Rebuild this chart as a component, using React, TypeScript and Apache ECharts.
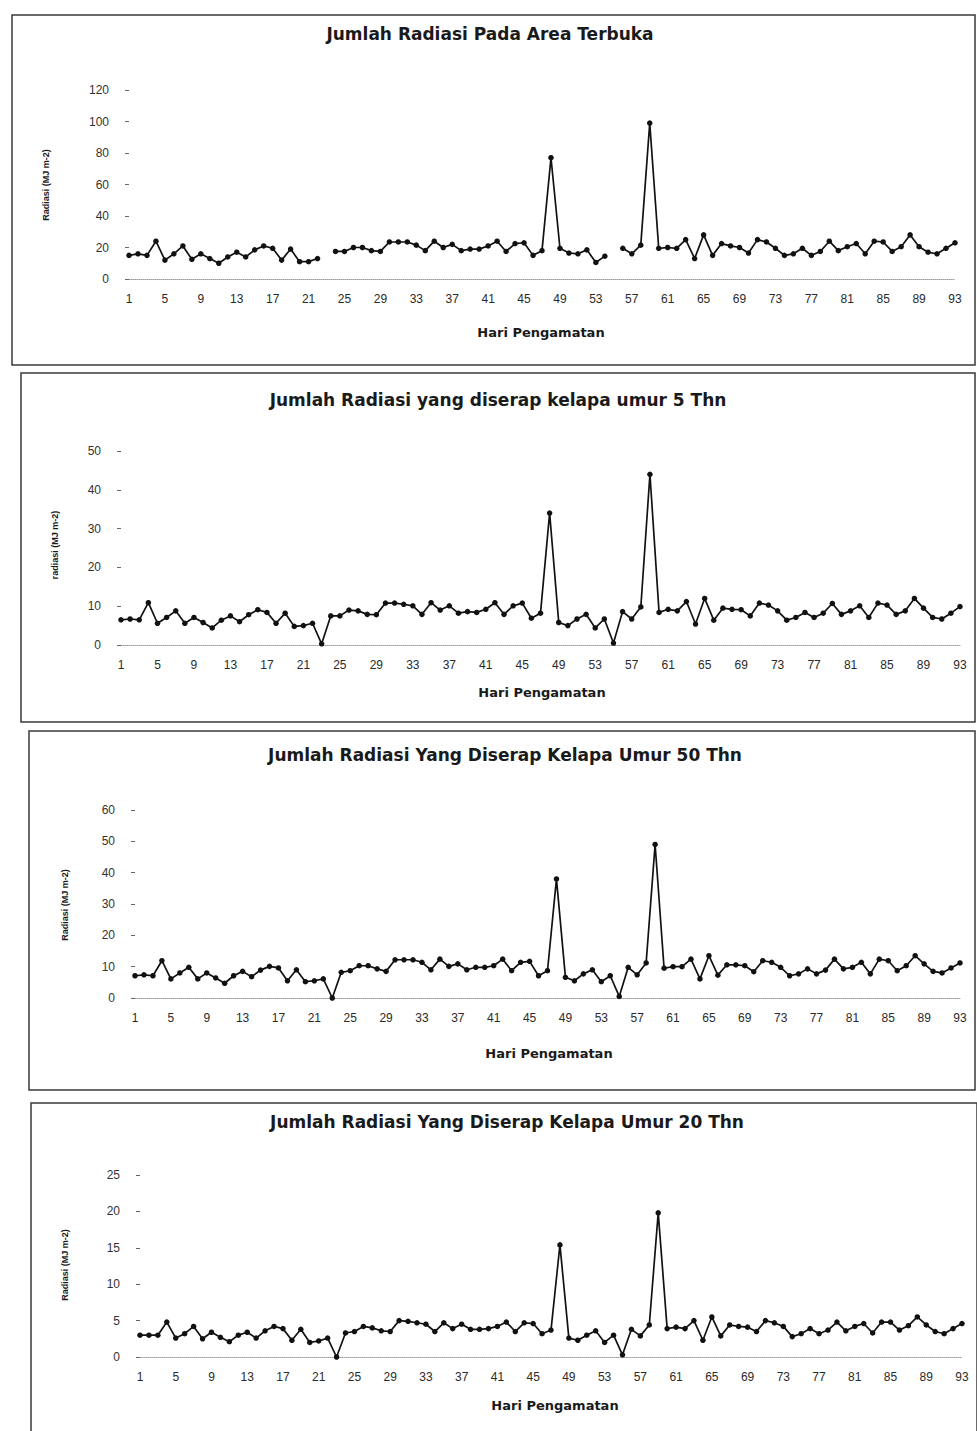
import React, { useEffect, useRef } from "react";
import * as echarts from "echarts";

const days: string[] = Array.from({ length: 93 }, (_, i) => String(i + 1));

const titles = [
  "Jumlah Radiasi Pada Area Terbuka",
  "Jumlah Radiasi yang diserap kelapa umur 5 Thn",
  "Jumlah Radiasi Yang Diserap Kelapa Umur 50 Thn",
  "Jumlah Radiasi Yang Diserap Kelapa Umur 20 Thn",
];
const yNames = ["Radiasi (MJ m-2)", "radiasi (MJ m-2)", "Radiasi (MJ m-2)", "Radiasi (MJ m-2)"];
const xName = "Hari Pengamatan";
const yMaxes = [120, 50, 60, 25];
const yIntervals = [20, 10, 10, 5];

const areaTerbuka: (number | null)[] = [
  15, 16, 15, 24, 12, 16, 21, 12.5, 16, 13, 10, 14, 17, 14, 18.5, 21, 19.5, 12, 19, 11,
  11, 13, null, 17.5, 17.5, 20, 20, 18, 17.5, 23.5, 23.5, 23.5, 21.5, 18, 24, 20, 22, 18, 19, 19,
  21, 24, 17.5, 22.5, 23, 15, 18, 77, 19.5, 16.5, 16, 18.5, 10.5, 14.5, null, 19.5, 16, 21.5, 99, 19.5,
  20, 19.5, 25, 13, 28, 15, 22.5, 21, 20, 16.5, 25, 23.5, 19.5, 15, 16, 19.5, 15, 17.5, 24, 18,
  20.5, 22.5, 16, 24, 23.5, 17.5, 20.5, 28, 20.5, 17, 16, 19.5, 23,
];

const umur5: number[] = [
  6.5, 6.7, 6.5, 10.9, 5.6, 7.1, 8.8, 5.6, 7.1, 5.8, 4.4, 6.4, 7.5, 6, 7.8, 9.1, 8.4, 5.6, 8.2, 4.8,
  5, 5.6, 0.3, 7.5, 7.5, 9, 8.8, 7.9, 7.8, 10.8, 10.8, 10.5, 10.1, 7.9, 10.9, 9, 10.1, 8.2, 8.6, 8.4,
  9.2, 10.9, 7.9, 10.1, 10.8, 6.9, 8.2, 34, 5.8, 5, 6.7, 7.9, 4.4, 6.7, 0.5, 8.6, 6.7, 9.8, 44, 8.4,
  9.2, 8.8, 11.2, 5.4, 12, 6.4, 9.5, 9.2, 9.1, 7.5, 10.8, 10.3, 8.8, 6.4, 7.1, 8.4, 7.1, 8.2, 10.7, 7.9,
  8.8, 10.1, 7.1, 10.8, 10.3, 7.9, 8.8, 12, 9.5, 7.1, 6.7, 8.2, 9.9,
];

const umur50: number[] = [
  7.1, 7.4, 7.1, 11.9, 6.1, 8, 9.8, 6.1, 8, 6.4, 4.7, 7.1, 8.5, 6.8, 8.9, 10.1, 9.6, 5.5, 9, 5.2,
  5.5, 6.1, 0, 8.2, 8.7, 10.3, 10.3, 9.3, 8.5, 12.2, 12.2, 12.2, 11.4, 9, 12.4, 10.1, 10.9, 9, 9.8, 9.8,
  10.3, 12.4, 8.7, 11.4, 11.7, 7.1, 8.7, 38, 6.6, 5.5, 7.7, 9, 5.2, 7.1, 0.5, 9.8, 7.4, 11.2, 49, 9.5,
  10, 10, 12.4, 6.1, 13.5, 7.3, 10.6, 10.6, 10.3, 8.4, 11.9, 11.4, 9.8, 7.1, 7.7, 9.3, 7.7, 8.9, 12.4, 9.3,
  9.8, 11.4, 7.7, 12.4, 11.9, 8.7, 10.3, 13.5, 10.9, 8.5, 8, 9.6, 11.2,
];

const umur20: number[] = [
  3, 3, 3, 4.8, 2.6, 3.2, 4.2, 2.5, 3.4, 2.7, 2.1, 3, 3.4, 2.6, 3.6, 4.2, 3.9, 2.3, 3.8, 2,
  2.2, 2.6, 0, 3.3, 3.5, 4.2, 4, 3.6, 3.5, 5, 4.9, 4.7, 4.5, 3.5, 4.7, 3.9, 4.5, 3.8, 3.8, 3.9,
  4.2, 4.8, 3.5, 4.7, 4.6, 3.2, 3.7, 15.4, 2.6, 2.3, 3, 3.6, 2, 3, 0.3, 3.8, 2.9, 4.4, 19.8, 3.9,
  4.1, 3.9, 5, 2.3, 5.5, 2.9, 4.4, 4.2, 4.1, 3.5, 5, 4.7, 4.2, 2.8, 3.2, 3.9, 3.2, 3.7, 4.8, 3.6,
  4.2, 4.6, 3.3, 4.8, 4.8, 3.7, 4.3, 5.5, 4.4, 3.5, 3.2, 3.9, 4.6,
];

const seriesData = [areaTerbuka, umur5, umur50, umur20];

// layout (pixels)
const W = 977;
const H = 1431;
const layouts = [
  { box: [12, 15, 963, 350], grid: [129, 22, 90, 189], title: [490, 34], xn: [541, 332], yn: [46, 185] },
  { box: [21, 373, 954, 349], grid: [121, 17, 451, 194], title: [498, 400], xn: [542, 692], yn: [55, 545] },
  { box: [29, 731, 946, 359], grid: [135, 17, 810, 188], title: [505, 755], xn: [549, 1053], yn: [65, 905] },
  { box: [31, 1103, 946, 360], grid: [140, 15, 1175, 182], title: [507, 1122], xn: [555, 1405], yn: [65, 1265] },
];

export default function App() {
  const ref = useRef<HTMLDivElement>(null);
  useEffect(() => {
    document.body.style.margin = "0";
    if (!ref.current) return;
    const chart = echarts.init(ref.current, undefined, { renderer: "svg" });
    const font = "'Liberation Sans', Arial, sans-serif";
    const titleFont = "'DejaVu Sans', 'Liberation Sans', sans-serif";
    const graphics: any[] = [];
    layouts.forEach((l, i) => {
      graphics.push({
        type: "rect",
        shape: { x: l.box[0], y: l.box[1], width: l.box[2], height: l.box[3] },
        style: { fill: "none", stroke: "#3a3a3a", lineWidth: 1.5 },
        silent: true,
      });
      graphics.push({
        type: "text",
        x: l.title[0],
        y: l.title[1],
        style: {
          text: titles[i],
          fill: "#1a1a1a",
          font: `bold 17px ${titleFont}`,
          align: "center",
          verticalAlign: "middle",
        },
      });
      graphics.push({
        type: "text",
        x: l.xn[0],
        y: l.xn[1],
        style: {
          text: xName,
          fill: "#1a1a1a",
          font: `bold 13px ${titleFont}`,
          align: "center",
          verticalAlign: "middle",
        },
      });
      graphics.push({
        type: "text",
        x: l.yn[0],
        y: l.yn[1],
        rotation: Math.PI / 2,
        style: {
          text: yNames[i],
          fill: "#1a1a1a",
          font: `bold 9px ${font}`,
          align: "center",
          verticalAlign: "middle",
        },
      });
    });

    const option: any = {
      animation: false,
      backgroundColor: "#ffffff",
      grid: layouts.map((l) => ({
        left: l.grid[0],
        right: l.grid[1],
        top: l.grid[2],
        height: l.grid[3],
        containLabel: false,
      })),
      xAxis: layouts.map((_, i) => ({
        type: "category",
        gridIndex: i,
        data: days,
        boundaryGap: false,
        axisLine: { show: true, lineStyle: { color: "#9a9a9a", type: "dotted", width: 1 } },
        axisTick: { show: false },
        axisLabel: { interval: 3, margin: 14, fontSize: 12, color: "#2a2a2a", fontFamily: font },
        splitLine: { show: false },
      })),
      yAxis: layouts.map((_, i) => ({
        type: "value",
        gridIndex: i,
        min: 0,
        max: yMaxes[i],
        interval: yIntervals[i],
        axisLine: { show: false },
        axisTick: { show: true, length: 4, lineStyle: { color: "#666" } },
        axisLabel: { margin: 20, fontSize: 12, color: "#333", fontFamily: font },
        splitLine: { show: false },
      })),
      series: seriesData.map((d, i) => ({
        type: "line",
        xAxisIndex: i,
        yAxisIndex: i,
        data: d,
        connectNulls: false,
        symbol: "circle",
        symbolSize: 5.5,
        lineStyle: { color: "#111", width: 1.7 },
        itemStyle: { color: "#111" },
      })),
      graphic: graphics,
    };
    chart.setOption(option);
    return () => chart.dispose();
  }, []);
  return <div ref={ref} style={{ width: W, height: H }} />;
}
